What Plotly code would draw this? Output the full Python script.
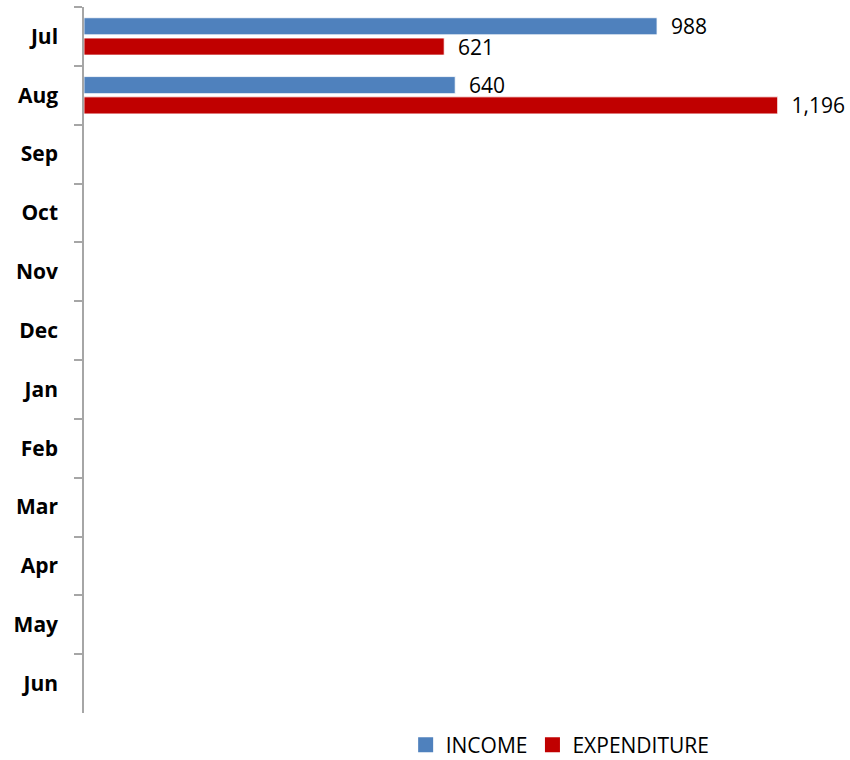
import plotly.graph_objects as go

months = ["Jul", "Aug", "Sep", "Oct", "Nov", "Dec", "Jan", "Feb", "Mar", "Apr", "May", "Jun"]
income = [988, 640, None, None, None, None, None, None, None, None, None, None]
expenditure = [621, 1196, None, None, None, None, None, None, None, None, None, None]

FONT = "Open Sans"
BLUE = "#4F81BD"
RED = "#C00000"
GRAY = "#A6A6A6"

fig = go.Figure()
for name, vals, col in [("INCOME", income, BLUE), ("EXPENDITURE", expenditure, RED)]:
    fig.add_trace(go.Bar(
        y=months, x=vals, name=name, orientation="h", showlegend=False,
        marker=dict(color=col, line=dict(color="white", width=0.8)),
        texttemplate="\u00a0\u00a0%{x:,}", textposition="outside",
        textfont=dict(family=FONT, size=21, color="#000000"),
        constraintext="none", cliponaxis=False,
    ))
for name, col in [("INCOME", BLUE), ("EXPENDITURE", RED)]:
    fig.add_trace(go.Scatter(
        x=[None], y=[None], mode="markers", name=name, showlegend=True,
        marker=dict(symbol="square", size=15, color=col),
    ))

fig.update_layout(
    width=850, height=760,
    margin=dict(l=84, r=12, t=7, b=47),
    paper_bgcolor="white", plot_bgcolor="white",
    barmode="group", bargap=0.31, bargroupgap=0.16,
    font=dict(family=FONT, size=20, color="#000000"),
    showlegend=True,
    legend=dict(orientation="h", x=0.659, xanchor="center", xref="container",
                y=15 / 760, yanchor="middle", yref="container",
                font=dict(family=FONT, size=21, color="#000000"), traceorder="normal"),
    xaxis=dict(visible=False, range=[0, 1300]),
    yaxis=dict(
        type="category", autorange="reversed",
        showline=True, linecolor=GRAY, linewidth=1.5,
        ticks="outside", tickson="boundaries", ticklen=8, tickcolor=GRAY, tickwidth=1.5,
        showgrid=False, zeroline=False,
        tickfont=dict(family=FONT, size=21, color="#000000", weight="bold"),
        ticklabelstandoff=20,
    ),
)

fig.write_html("out.html")
